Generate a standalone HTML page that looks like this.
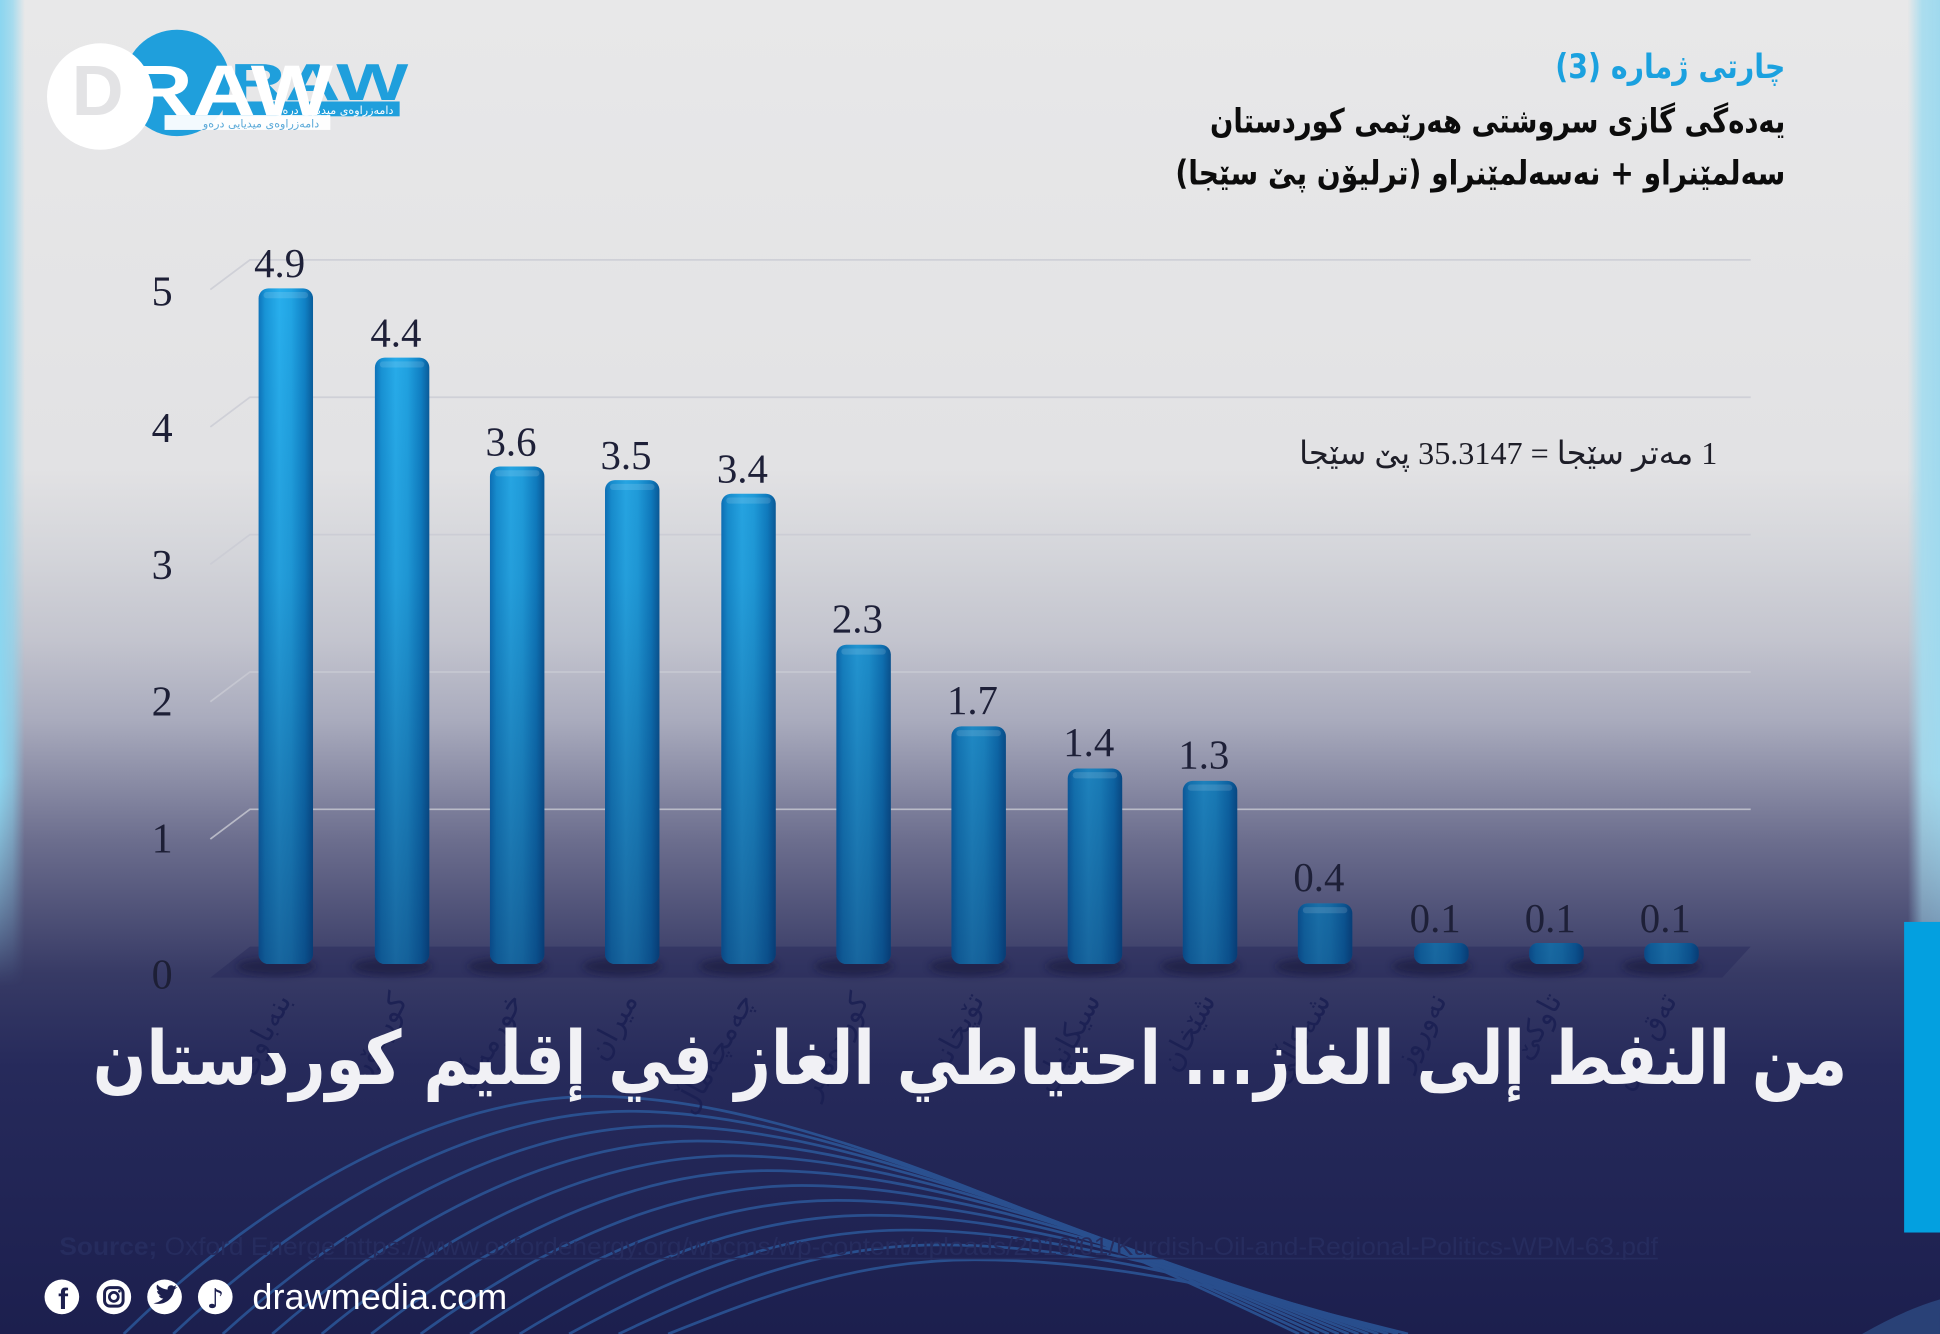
<!DOCTYPE html>
<html>
<head>
<meta charset="utf-8">
<style>
html,body{margin:0;padding:0;width:1940px;height:1334px;overflow:hidden;background:#1c1f4e;}
svg{display:block;overflow:hidden;}
</style>
</head>
<body>
<svg width="1940" height="1334" viewBox="0 0 1568 1078" preserveAspectRatio="none" xmlns="http://www.w3.org/2000/svg">
<defs>
  <clipPath id="frame"><rect x="0" y="0" width="1568" height="1078"/></clipPath>
  <linearGradient id="bg" x1="0" y1="0" x2="0" y2="1078" gradientUnits="userSpaceOnUse">
    <stop offset="0" stop-color="#e8e8e9"/>
    <stop offset="0.35" stop-color="#e2e2e4"/>
    <stop offset="0.415" stop-color="#d4d5da"/>
    <stop offset="0.48" stop-color="#c3c4ce"/>
    <stop offset="0.54" stop-color="#a9abbd"/>
    <stop offset="0.63" stop-color="#6c6e8e"/>
    <stop offset="0.73" stop-color="#373a65"/>
    <stop offset="0.80" stop-color="#262a5b"/>
    <stop offset="1" stop-color="#1c1f4e"/>
  </linearGradient>
  <linearGradient id="lsH" x1="0" y1="0" x2="1" y2="0">
    <stop offset="0" stop-color="#8ad5ef" stop-opacity="1"/>
    <stop offset="0.5" stop-color="#8ad5ef" stop-opacity="0.7"/>
    <stop offset="1" stop-color="#8ad5ef" stop-opacity="0"/>
  </linearGradient>
  <linearGradient id="rsH" x1="0" y1="0" x2="1" y2="0">
    <stop offset="0" stop-color="#a4dcef" stop-opacity="0"/>
    <stop offset="0.45" stop-color="#a4dcef" stop-opacity="0.9"/>
    <stop offset="1" stop-color="#9fd9ee" stop-opacity="1"/>
  </linearGradient>
  <linearGradient id="vfadeL" x1="0" y1="0" x2="0" y2="1078" gradientUnits="userSpaceOnUse">
    <stop offset="0" stop-color="#fff"/>
    <stop offset="0.58" stop-color="#fff"/>
    <stop offset="0.74" stop-color="#000"/>
    <stop offset="1" stop-color="#000"/>
  </linearGradient>
  <linearGradient id="vfadeR" x1="0" y1="0" x2="0" y2="1078" gradientUnits="userSpaceOnUse">
    <stop offset="0" stop-color="#fff"/>
    <stop offset="0.58" stop-color="#fff"/>
    <stop offset="0.70" stop-color="#888"/>
    <stop offset="0.78" stop-color="#000"/>
    <stop offset="1" stop-color="#000"/>
  </linearGradient>
  <mask id="mL"><rect x="0" y="0" width="1568" height="1078" fill="url(#vfadeL)"/></mask>
  <mask id="mR"><rect x="0" y="0" width="1568" height="1078" fill="url(#vfadeR)"/></mask>
  <linearGradient id="barH" x1="0" y1="0" x2="1" y2="0">
    <stop offset="0" stop-color="#0e74bb"/>
    <stop offset="0.12" stop-color="#1894d6"/>
    <stop offset="0.38" stop-color="#28aeec"/>
    <stop offset="0.6" stop-color="#21a4e3"/>
    <stop offset="0.85" stop-color="#1081c5"/>
    <stop offset="1" stop-color="#0a5d9b"/>
  </linearGradient>
  <linearGradient id="barV" x1="0" y1="250" x2="0" y2="790" gradientUnits="userSpaceOnUse">
    <stop offset="0" stop-color="#051446" stop-opacity="0"/>
    <stop offset="0.4" stop-color="#051446" stop-opacity="0.1"/>
    <stop offset="1" stop-color="#051446" stop-opacity="0.48"/>
  </linearGradient>
  <filter id="blur3" x="-50%" y="-50%" width="200%" height="200%"><feGaussianBlur stdDeviation="3"/></filter>
</defs>

<g clip-path="url(#frame)">
<!-- background -->
<rect x="0" y="0" width="1568" height="1078" fill="url(#bg)"/>
<!-- left strip -->
<rect x="0" y="0" width="20" height="1078" fill="url(#lsH)" mask="url(#mL)"/>
<!-- right strip -->
<rect x="1542" y="0" width="26" height="1078" fill="url(#rsH)" mask="url(#mR)"/>

<!-- decorative waves -->
<g fill="none" stroke="#2d5ea2" stroke-width="2.2" opacity="0.75">
  <path d="M100 1078 C220 960 360 886 480 886 C620 886 800 960 1050 1078"/>
  <path d="M140 1078 C256 968 390 898 508 898 C646 898 820 968 1058 1078"/>
  <path d="M180 1078 C292 976 420 910 536 910 C672 910 840 976 1066 1078"/>
  <path d="M220 1078 C328 984 450 922 564 922 C698 922 860 984 1074 1078"/>
  <path d="M260 1078 C364 992 480 934 592 934 C724 934 880 992 1082 1078"/>
  <path d="M300 1078 C400 1000 510 946 620 946 C750 946 900 1000 1090 1078"/>
  <path d="M340 1078 C436 1008 540 958 648 958 C776 958 920 1008 1098 1078"/>
  <path d="M380 1078 C472 1016 570 970 676 970 C802 970 940 1016 1106 1078"/>
  <path d="M420 1078 C508 1024 600 982 704 982 C828 982 960 1024 1114 1078"/>
  <path d="M460 1078 C544 1032 630 994 732 994 C854 994 980 1032 1122 1078"/>
  <path d="M500 1078 C580 1040 660 1006 760 1006 C880 1006 1000 1040 1130 1078"/>
  <path d="M540 1078 C616 1048 690 1018 788 1018 C906 1018 1020 1048 1138 1078"/>
</g>
<path d="M1505 1078 Q1540 1058 1568 1050 L1568 1078 Z" fill="#3a6aa8" opacity="0.45"/>

<!-- gridlines -->
<g stroke="#c9cad3" stroke-width="1.4" fill="none" opacity="0.8">
  <polyline points="170,234 202,210 1415,210"/>
  <polyline points="170,345 202,321 1415,321"/>
  <polyline points="170,456 202,432 1415,432"/>
  <polyline points="170,567 202,543 1415,543"/>
  <polyline points="170,678 202,654 1415,654"/>
</g>

<!-- floor -->
<polygon points="202,765 1415,765 1392,790 170,790" fill="#252858" opacity="0.45"/>
<g fill="#121438" opacity="0.55" filter="url(#blur3)">
  <ellipse cx="223" cy="781" rx="32" ry="7"/>
  <ellipse cx="317" cy="781" rx="32" ry="7"/>
  <ellipse cx="410" cy="781" rx="32" ry="7"/>
  <ellipse cx="503" cy="781" rx="32" ry="7"/>
  <ellipse cx="597" cy="781" rx="32" ry="7"/>
  <ellipse cx="690" cy="781" rx="32" ry="7"/>
  <ellipse cx="783" cy="781" rx="32" ry="7"/>
  <ellipse cx="877" cy="781" rx="32" ry="7"/>
  <ellipse cx="970" cy="781" rx="32" ry="7"/>
  <ellipse cx="1063" cy="781" rx="32" ry="7"/>
  <ellipse cx="1157" cy="781" rx="32" ry="7"/>
  <ellipse cx="1250" cy="781" rx="32" ry="7"/>
  <ellipse cx="1343" cy="781" rx="32" ry="7"/>
</g>

<!-- bars -->
<g>
  <rect x="209" y="233" width="44" height="546" rx="8" fill="url(#barH)"/>
  <rect x="303" y="289" width="44" height="490" rx="8" fill="url(#barH)"/>
  <rect x="396" y="377" width="44" height="402" rx="8" fill="url(#barH)"/>
  <rect x="489" y="388" width="44" height="391" rx="8" fill="url(#barH)"/>
  <rect x="583" y="399" width="44" height="380" rx="8" fill="url(#barH)"/>
  <rect x="676" y="521" width="44" height="258" rx="8" fill="url(#barH)"/>
  <rect x="769" y="587" width="44" height="192" rx="8" fill="url(#barH)"/>
  <rect x="863" y="621" width="44" height="158" rx="8" fill="url(#barH)"/>
  <rect x="956" y="631" width="44" height="148" rx="8" fill="url(#barH)"/>
  <rect x="1049" y="730" width="44" height="49" rx="8" fill="url(#barH)"/>
  <rect x="1143" y="762" width="44" height="17" rx="7" fill="url(#barH)"/>
  <rect x="1236" y="762" width="44" height="17" rx="7" fill="url(#barH)"/>
  <rect x="1329" y="762" width="44" height="17" rx="7" fill="url(#barH)"/>
</g>
<g fill="url(#barV)">
  <rect x="209" y="233" width="44" height="546" rx="8"/>
  <rect x="303" y="289" width="44" height="490" rx="8"/>
  <rect x="396" y="377" width="44" height="402" rx="8"/>
  <rect x="489" y="388" width="44" height="391" rx="8"/>
  <rect x="583" y="399" width="44" height="380" rx="8"/>
  <rect x="676" y="521" width="44" height="258" rx="8"/>
  <rect x="769" y="587" width="44" height="192" rx="8"/>
  <rect x="863" y="621" width="44" height="158" rx="8"/>
  <rect x="956" y="631" width="44" height="148" rx="8"/>
  <rect x="1049" y="730" width="44" height="49" rx="8"/>
  <rect x="1143" y="762" width="44" height="17" rx="7"/>
  <rect x="1236" y="762" width="44" height="17" rx="7"/>
  <rect x="1329" y="762" width="44" height="17" rx="7"/>
</g>
<!-- bar top highlights -->
<g fill="#ffffff" opacity="0.12">
  <rect x="213" y="236" width="36" height="5" rx="2.5"/>
  <rect x="307" y="292" width="36" height="5" rx="2.5"/>
  <rect x="400" y="380" width="36" height="5" rx="2.5"/>
  <rect x="493" y="391" width="36" height="5" rx="2.5"/>
  <rect x="587" y="402" width="36" height="5" rx="2.5"/>
  <rect x="680" y="524" width="36" height="5" rx="2.5"/>
  <rect x="773" y="590" width="36" height="5" rx="2.5"/>
  <rect x="867" y="624" width="36" height="5" rx="2.5"/>
  <rect x="960" y="634" width="36" height="5" rx="2.5"/>
  <rect x="1053" y="733" width="36" height="5" rx="2.5"/>
</g>

<!-- y tick labels -->
<g font-family="'Liberation Serif', serif" font-size="34" fill="#1d1f36" text-anchor="middle">
  <text x="131" y="247">5</text>
  <text x="131" y="357">4</text>
  <text x="131" y="468">3</text>
  <text x="131" y="578">2</text>
  <text x="131" y="689">1</text>
  <text x="131" y="799">0</text>
</g>

<!-- value labels -->
<g font-family="'Liberation Serif', serif" font-size="33" fill="#1e2038" text-anchor="middle">
  <text x="226" y="224">4.9</text>
  <text x="320" y="280">4.4</text>
  <text x="413" y="368">3.6</text>
  <text x="506" y="379">3.5</text>
  <text x="600" y="390">3.4</text>
  <text x="693" y="511">2.3</text>
  <text x="786" y="577">1.7</text>
  <text x="880" y="611">1.4</text>
  <text x="973" y="621">1.3</text>
  <text x="1066" y="720">0.4</text>
  <text x="1160" y="753">0.1</text>
  <text x="1253" y="753">0.1</text>
  <text x="1346" y="753">0.1</text>
</g>

<!-- note -->
<text x="1388" y="375" font-family="'Liberation Serif', 'DejaVu Sans', serif" font-size="26" fill="#1e1e28" text-anchor="end" textLength="338" lengthAdjust="spacingAndGlyphs">&#x200F;1 مەتر سێجا = 35.3147 پێ سێجا&#x200F;</text>

<!-- rotated x-axis labels (faint) -->
<g font-family="'DejaVu Sans', sans-serif" font-size="24" fill="#1a1f52" opacity="0.85" text-anchor="end">
  <text transform="translate(236,808) rotate(-62)">بنەباوی</text>
  <text transform="translate(330,808) rotate(-62)">کورمۆر</text>
  <text transform="translate(423,808) rotate(-62)">خورمەڵە</text>
  <text transform="translate(516,808) rotate(-62)">میران</text>
  <text transform="translate(610,808) rotate(-62)">چەمچەماڵ</text>
  <text transform="translate(703,808) rotate(-62)">کوردەمیر</text>
  <text transform="translate(796,808) rotate(-62)">تۆپخانە</text>
  <text transform="translate(890,808) rotate(-62)">سیکانیان</text>
  <text transform="translate(983,808) rotate(-62)">شێخان</text>
  <text transform="translate(1076,808) rotate(-62)">شەکاڵی</text>
  <text transform="translate(1170,808) rotate(-62)">نەوروز</text>
  <text transform="translate(1263,808) rotate(-62)">تاوکێ</text>
  <text transform="translate(1356,808) rotate(-62)">تەق تەق</text>
</g>

<!-- blue accent rectangle right -->
<rect x="1539" y="745" width="29" height="251" fill="#03a0e0"/>

<!-- title block top right -->
<g font-family="'DejaVu Sans', sans-serif" font-weight="bold" text-anchor="end">
  <text x="1443" y="63" font-size="27" fill="#1ba1df" textLength="186" lengthAdjust="spacingAndGlyphs">&#x200F;چارتی ژمارە (3)&#x200F;</text>
  <text x="1443" y="107" font-size="27" fill="#0c0c0c" textLength="465" lengthAdjust="spacingAndGlyphs">&#x200F;یەدەگی گازی سروشتی هەرێمی کوردستان&#x200F;</text>
  <text x="1443" y="149" font-size="27" fill="#0c0c0c" textLength="493" lengthAdjust="spacingAndGlyphs">&#x200F;سەلمێنراو + نەسەلمێنراو (ترلیۆن پێ سێجا)&#x200F;</text>
</g>

<!-- big arabic headline -->
<text x="1493" y="876" font-family="'DejaVu Sans', sans-serif" font-weight="bold" font-size="60" fill="#f1f1f5" text-anchor="end" textLength="1418" lengthAdjust="spacingAndGlyphs">&#x200F;من النفط إلى الغاز... احتياطي الغاز في إقليم كوردستان&#x200F;</text>

<!-- source -->
<text x="48" y="1014" font-family="'Liberation Sans Narrow', 'Liberation Sans', sans-serif" font-size="20" fill="#262c5e" textLength="1292" lengthAdjust="spacingAndGlyphs"><tspan font-weight="bold">Source;</tspan> Oxford Energe https://www.oxfordenergy.org/wpcms/wp-content/uploads/2016/01/Kurdish-Oil-and-Regional-Politics-WPM-63.pdf</text>
<line x1="262" y1="1017" x2="1340" y2="1017" stroke="#262c5e" stroke-width="1.3"/>

<!-- footer icons -->
<g>
  <circle cx="50" cy="1048" r="14" fill="#ffffff"/>
  <text x="51" y="1058" font-family="'Liberation Sans', sans-serif" font-weight="bold" font-size="24" fill="#1c1f4e" text-anchor="middle">f</text>
  <circle cx="92" cy="1048" r="14" fill="#ffffff"/>
  <rect x="84.5" y="1040.5" width="15" height="15" rx="4.5" fill="none" stroke="#1c1f4e" stroke-width="2.4"/>
  <circle cx="92" cy="1048" r="3.6" fill="none" stroke="#1c1f4e" stroke-width="2.2"/>
  <circle cx="96.5" cy="1043.5" r="1.1" fill="#1c1f4e"/>
  <circle cx="133" cy="1048" r="14" fill="#ffffff"/>
  <path d="M124 1053 C129 1055 139 1053 141 1042 L143.5 1040 L141.5 1040.5 L142.5 1038.5 L140.5 1039.5 C138.5 1037.5 135 1039 135.5 1042 C132 1042 129 1040 127 1038 C126 1040.5 127 1042.5 128.5 1043.5 L127 1043.2 C127 1045 128.3 1046.3 130 1046.8 L128.3 1047 C129 1048.5 130.3 1049.3 132 1049.4 C130 1051 127 1053 124 1053 Z" fill="#1c1f4e"/>
  <circle cx="174" cy="1048" r="14" fill="#ffffff"/>
  <text x="174" y="1057" font-family="'DejaVu Sans', sans-serif" font-weight="bold" font-size="22" fill="#1c1f4e" text-anchor="middle">♪</text>
  <text x="204" y="1058" font-family="'Liberation Sans Narrow', 'Liberation Sans', sans-serif" font-size="29" fill="#ffffff" textLength="206" lengthAdjust="spacingAndGlyphs">drawmedia.com</text>
</g>

<!-- logo -->
<g>
  <circle cx="143" cy="67" r="43" fill="#1f9fdc"/>
  <text x="186" y="81" font-family="'Liberation Sans', sans-serif" font-weight="bold" font-size="42" fill="#1f9fdc" textLength="144" lengthAdjust="spacingAndGlyphs">RAW</text>
  <rect x="180" y="82" width="143" height="12" fill="#1f9fdc"/>
  <text x="318" y="92" font-family="'DejaVu Sans', sans-serif" font-size="9" fill="#ffffff" text-anchor="end">&#x200F;دامەزراوەی میدیایی درەو&#x200F;</text>
  <circle cx="81" cy="78" r="43" fill="#ffffff"/>
  <text x="58" y="93" font-family="'Liberation Sans', sans-serif" font-weight="bold" font-size="58" fill="#e3e3e5">D</text>
  <text x="105" y="93" font-family="'Liberation Sans', sans-serif" font-weight="bold" font-size="58" fill="#ffffff" textLength="164" lengthAdjust="spacingAndGlyphs">RAW</text>
  <rect x="133" y="93" width="134" height="12" fill="#ffffff" opacity="0.95"/>
  <text x="258" y="103" font-family="'DejaVu Sans', sans-serif" font-size="9" fill="#5aa9d8" text-anchor="end">&#x200F;دامەزراوەی میدیایی درەو&#x200F;</text>
</g>
</g>
</svg>
</body>
</html>
